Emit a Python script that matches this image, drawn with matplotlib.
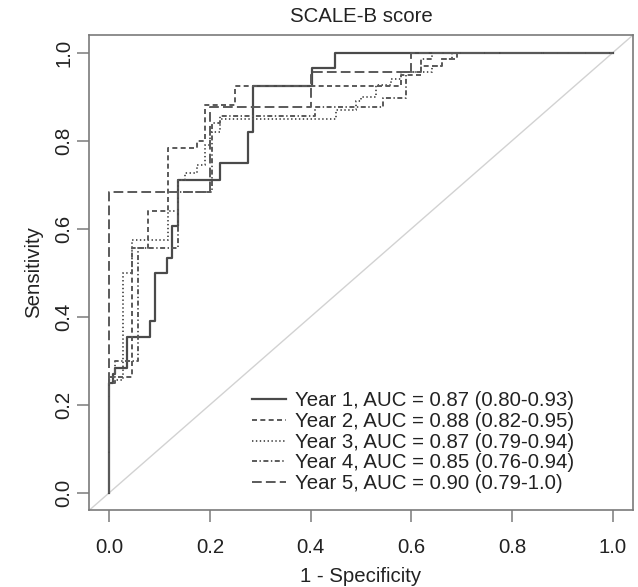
import matplotlib
matplotlib.use("Agg")
import matplotlib.pyplot as plt

plt.rcParams["font.family"] = ["Liberation Sans", "DejaVu Sans"]
plt.rcParams["lines.scale_dashes"] = False

FS = 14.7
GREY = "#5a5a5a"

# ROC step points (1 - specificity, sensitivity)
year1_fpr = [0, 0, 0.008, 0.012, 0.036, 0.081, 0.091, 0.115, 0.125, 0.137, 0.22, 0.276, 0.286, 0.403, 0.448, 1.0]
year1_tpr = [0, 0.25, 0.27, 0.284, 0.355, 0.39, 0.5, 0.534, 0.605, 0.71, 0.75, 0.82, 0.925, 0.966, 1.0, 1.0]

year2_fpr = [0, 0, 0.046, 0.077, 0.117, 0.175, 0.19, 0.25, 0.58, 0.62, 0.66, 0.69, 1.0]
year2_tpr = [0, 0.264, 0.556, 0.64, 0.784, 0.80, 0.88, 0.925, 0.95, 0.97, 0.985, 1.0, 1.0]

year3_fpr = [0, 0, 0.028, 0.046, 0.117, 0.137, 0.15, 0.175, 0.19, 0.2, 0.22,
             0.45, 0.49, 0.5, 0.53, 0.56, 0.58, 0.64, 0.66, 0.68, 1.0]
year3_tpr = [0, 0.257, 0.5, 0.575, 0.64, 0.71, 0.727, 0.745, 0.79, 0.82, 0.85,
             0.87, 0.89, 0.9, 0.927, 0.94, 0.955, 0.97, 0.985, 1.0, 1.0]

year4_fpr = [0, 0, 0.012, 0.058, 0.137, 0.205, 0.22, 0.408, 0.544, 0.59, 0.62, 0.64, 1.0]
year4_tpr = [0, 0.25, 0.30, 0.556, 0.684, 0.84, 0.855, 0.877, 0.898, 0.955, 0.985, 1.0, 1.0]

year5_fpr = [0, 0, 0.2, 0.4, 0.6, 1.0]
year5_tpr = [0, 0.684, 0.877, 0.955, 1.0, 1.0]

labels = [
    "Year 1, AUC = 0.87 (0.80-0.93)",
    "Year 2, AUC = 0.88 (0.82-0.95)",
    "Year 3, AUC = 0.87 (0.79-0.94)",
    "Year 4, AUC = 0.85 (0.76-0.94)",
    "Year 5, AUC = 0.90 (0.79-1.0)",
]

curves = [
    (year1_fpr, year1_tpr, dict(linestyle="-", lw=1.6, color="#4a4a4a")),
    (year2_fpr, year2_tpr, dict(dashes=(3.6, 2.4), lw=1.4, color=GREY)),
    (year3_fpr, year3_tpr, dict(dashes=(1.0, 1.8), lw=1.4, color=GREY)),
    (year4_fpr, year4_tpr, dict(dashes=(3.6, 1.8, 1.0, 1.8), lw=1.4, color=GREY)),
    (year5_fpr, year5_tpr, dict(dashes=(7.0, 3.0), lw=1.4, color=GREY)),
]

fig = plt.figure(figsize=(6.38, 5.87), dpi=100)
ax = fig.add_axes([89 / 638, 1 - 510 / 587, (633 - 89) / 638, (510 - 35) / 587])

ax.axline((0, 0), slope=1, color="#d2d2d2", lw=1.0, zorder=1)

for (fx, ty, style), lab in zip(curves, labels):
    ax.step(fx, ty, where="post", label=lab, zorder=2, **style)

ax.set_xlim(-0.04, 1.04)
ax.set_ylim(-0.039, 1.04)
ticks = [0.0, 0.2, 0.4, 0.6, 0.8, 1.0]
ax.set_xticks(ticks)
ax.set_yticks(ticks)
ax.set_xticklabels([f"{t:.1f}" for t in ticks])
ax.set_yticklabels([f"{t:.1f}" for t in ticks])

for sp in ax.spines.values():
    sp.set_color("#7a7a7a")
    sp.set_linewidth(1.2)
ax.tick_params(axis="both", length=8.6, width=1.1, color="#7a7a7a",
               labelsize=FS, labelcolor="#222222")
ax.tick_params(axis="x", pad=11.5)
ax.tick_params(axis="y", pad=2.5)
for t in ax.get_yticklabels():
    t.set_rotation(90)
    t.set_va("center")

ax.set_xlabel("1 - Specificity", fontsize=FS, color="#222222")
ax.set_ylabel("Sensitivity", fontsize=FS, color="#222222")
ax.xaxis.set_label_coords((361 - 89) / 544, (510 - 577) / 475)
ax.xaxis.label.set_va("center")
ax.yaxis.set_label_coords((34 - 89) / 544, 0.5)
ax.yaxis.label.set_va("center")

fig.text(361 / 638, 1 - 17 / 587, "SCALE-B score", ha="center", va="center",
         fontsize=FS, color="#222222")

leg = ax.legend(loc="lower left", bbox_to_anchor=(252 / 638, 1 - 493 / 587),
                bbox_transform=fig.transFigure, frameon=False, fontsize=FS,
                handlelength=1.68, handletextpad=0.42, labelspacing=0.08,
                borderpad=0, borderaxespad=0)
for t in leg.get_texts():
    t.set_color("#222222")

fig.savefig("out.png", dpi=100)
